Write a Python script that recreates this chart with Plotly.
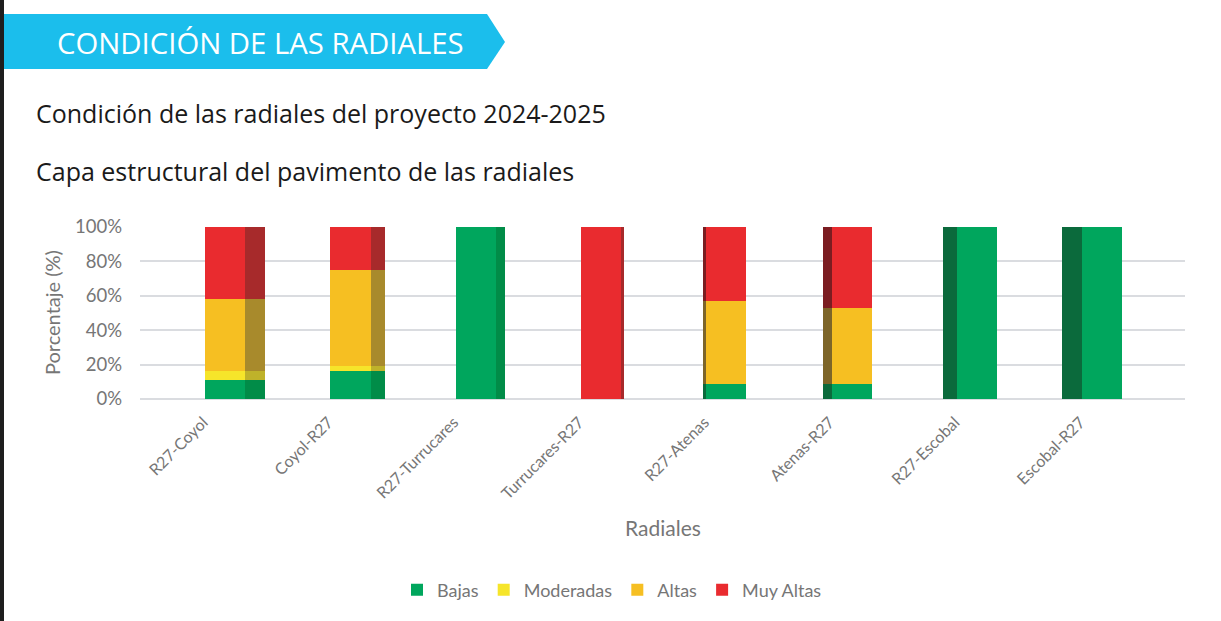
import plotly.graph_objects as go

# ---------------- data ----------------
categories = ["R27-Coyol", "Coyol-R27", "R27-Turrucares", "Turrucares-R27",
              "R27-Atenas", "Atenas-R27", "R27-Escobal", "Escobal-R27"]
bajas = [11, 16, 100, 0, 9, 9, 100, 100]
moderadas = [5, 3, 0, 0, 0, 0, 0, 0]
altas = [42, 56, 0, 0, 48, 44, 0, 0]
muy_altas = [42, 25, 0, 100, 43, 47, 0, 0]
y_tick_values = [0, 20, 40, 60, 80, 100]
y_tick_labels = ["0%", "20%", "40%", "60%", "80%", "100%"]
series_names = ["Bajas", "Moderadas", "Altas", "Muy Altas"]

# ---------------- style ----------------
W_PX, H_PX = 1221, 621
L, R, T, B = 140, 36, 227, 222
PW, PH = W_PX - L - R, H_PX - T - B
front_col = {"Bajas": "#00A65D", "Moderadas": "#F6E52A", "Altas": "#F6BF22", "Muy Altas": "#E92B2F"}
side_right = {"Bajas": "#018C48", "Moderadas": "#BFB22A", "Altas": "#A88A2C", "Muy Altas": "#A72A2B"}
side_left = {"Bajas": "#0B6A3C", "Moderadas": "#857A26", "Altas": "#7D6529", "Muy Altas": "#7B1D21"}
BAR_W = 0.32
GREY = "#767676"
CHART_FONT = "Lato"
HEAD_FONT = "Open Sans"

def px_x(px):
    return (px - L) / PW

def px_y(py):
    return (H_PX - B - py) / PH

pos = list(range(len(categories)))
mid = (len(categories) - 1) / 2
side_w = [abs(mid - i) * 0.046 for i in pos]
side_off = [BAR_W / 2 if i < mid else -BAR_W / 2 - side_w[i] for i in pos]

values = {"Bajas": bajas, "Moderadas": moderadas, "Altas": altas, "Muy Altas": muy_altas}

fig = go.Figure()
for name in series_names:
    fig.add_trace(go.Bar(
        x=pos, y=values[name], name=name, width=BAR_W,
        marker=dict(color=front_col[name], line=dict(width=0)),
        xaxis="x", yaxis="y", showlegend=True,
    ))
for name in series_names:
    cols = [side_right[name] if i < mid else side_left[name] for i in pos]
    fig.add_trace(go.Bar(
        x=pos, y=values[name], name=name, width=side_w, offset=side_off,
        marker=dict(color=cols, line=dict(width=0)),
        xaxis="x2", yaxis="y", showlegend=False, hoverinfo="skip",
    ))

shapes = [
    # left dark strip
    dict(type="rect", xref="paper", yref="paper",
         x0=px_x(0), x1=px_x(4), y0=px_y(621), y1=px_y(0),
         fillcolor="#1E1E1E", line=dict(width=0), layer="below"),
    # header banner
    dict(type="path", xref="paper", yref="paper",
         path=(f"M {px_x(4)},{px_y(14)} L {px_x(487)},{px_y(14)} L {px_x(505)},{px_y(42)} "
               f"L {px_x(487)},{px_y(69)} L {px_x(4)},{px_y(69)} Z"),
         fillcolor="#1BBEEC", line=dict(width=0), layer="below"),
]

annotations = [
    dict(text="CONDICIÓN DE LAS RADIALES", xref="paper", yref="paper",
         x=px_x(55), y=px_y(43), xanchor="left", yanchor="middle", showarrow=False,
         font=dict(family=HEAD_FONT, size=29.3, color="white")),
    dict(text="Condición de las radiales del proyecto 2024-2025", xref="paper", yref="paper",
         x=px_x(34), y=px_y(113), xanchor="left", yanchor="middle", showarrow=False,
         font=dict(family=HEAD_FONT, size=25, color="#1A1A1A")),
    dict(text="Capa estructural del pavimento de las radiales", xref="paper", yref="paper",
         x=px_x(34), y=px_y(171), xanchor="left", yanchor="middle", showarrow=False,
         font=dict(family=HEAD_FONT, size=25, color="#1A1A1A")),
    dict(text="Porcentaje (%)", xref="paper", yref="paper",
         x=px_x(52), y=px_y(313), xanchor="center", yanchor="middle", showarrow=False,
         textangle=-90, font=dict(family=CHART_FONT, size=20, color=GREY)),
    dict(text="Radiales", xref="paper", yref="paper",
         x=px_x(663), y=px_y(527), xanchor="center", yanchor="middle", showarrow=False,
         font=dict(family=CHART_FONT, size=21, color=GREY)),
]

fig.update_layout(
    width=W_PX, height=H_PX,
    margin=dict(l=L, r=R, t=T, b=B),
    paper_bgcolor="white", plot_bgcolor="white",
    barmode="stack", bargap=0,
    font=dict(family=CHART_FONT, color=GREY),
    xaxis=dict(range=[-0.68, 7.66], tickvals=pos, ticktext=categories, tickangle=-45,
               showgrid=False, zeroline=False, showline=False, ticks="",
               tickfont=dict(family=CHART_FONT, size=16, color=GREY),
               ticklabelstandoff=10, ticklabelshift=-22),
    xaxis2=dict(overlaying="x", matches="x", visible=False),
    yaxis=dict(range=[0, 100], tickvals=y_tick_values, ticktext=y_tick_labels,
               showgrid=True, gridcolor="#DADCE0", gridwidth=2,
               zeroline=True, zerolinecolor="#DADCE0", zerolinewidth=2,
               showline=False, ticks="", ticklabelstandoff=17,
               tickfont=dict(family=CHART_FONT, size=18.5, color=GREY)),
    legend=dict(orientation="h", x=px_x(612), y=px_y(590), xanchor="center", yanchor="middle",
                font=dict(family=CHART_FONT, size=18, color=GREY), traceorder="normal",
                itemwidth=30),
    shapes=shapes,
    annotations=annotations,
    showlegend=True,
)

fig.write_html("out.html")
